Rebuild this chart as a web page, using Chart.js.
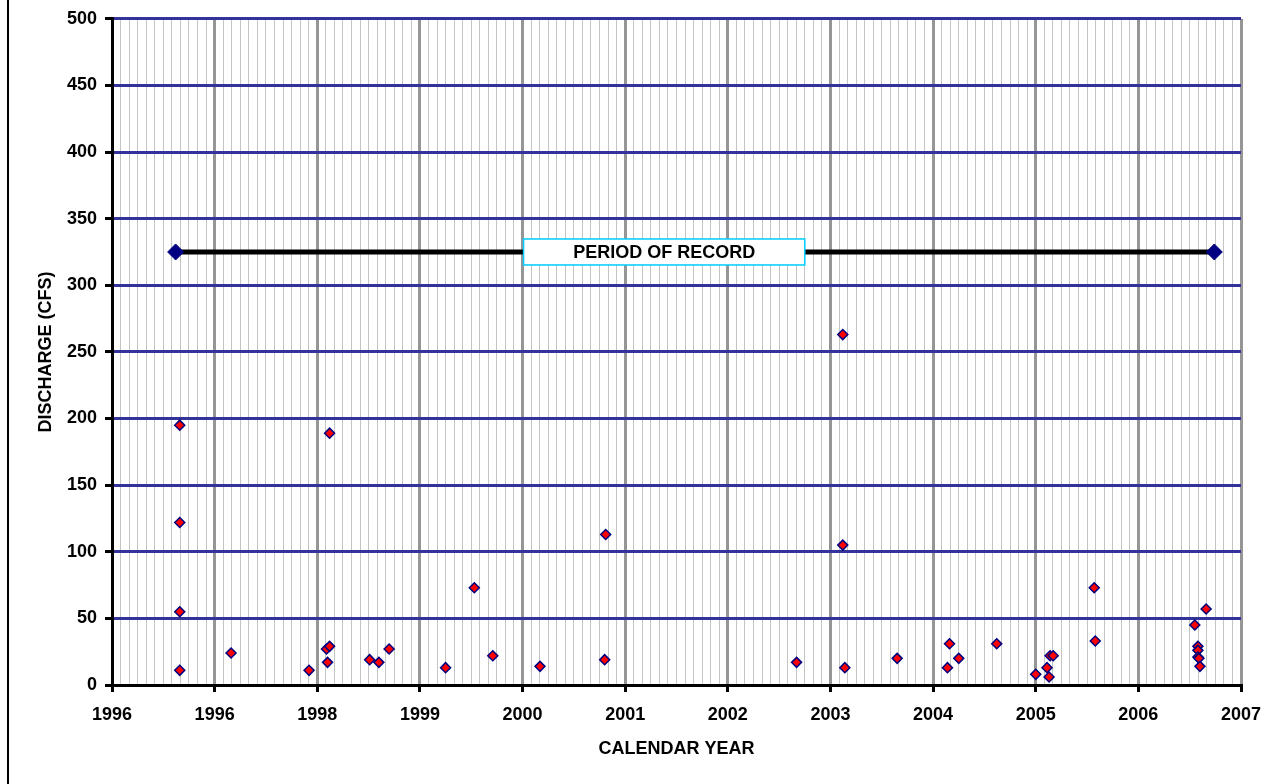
<!DOCTYPE html>
<html>
<head>
<meta charset="utf-8">
<script src="https://cdn.jsdelivr.net/npm/chart.js@4.4.1/dist/chart.umd.min.js"></script>
<style>
  html, body { margin: 0; padding: 0; background: #ffffff; }
  #wrap { position: relative; width: 1283px; height: 784px; }
</style>
</head>
<body>
<div id="wrap"><canvas id="c" width="1283" height="784"></canvas></div>
<script>
// ---- Data ----
const xTickLabels = ['1996','1996','1998','1999','2000','2001','2002','2003','2004','2005','2006','2007'];
const xStart = 1996;   // axis position of first major tick
const xEnd = 2007;     // axis position of last major tick
const minorPerMajor = 12;

const yTickValues = [0, 50, 100, 150, 200, 250, 300, 350, 400, 450, 500];

// Measured discharges (x in decimal years on the axis, y in CFS)
const obsX = [
  1996.66, 1996.66, 1996.66, 1996.66,
  1997.16, 1997.92,
  1998.09, 1998.12, 1998.10, 1998.12,
  1998.51, 1998.60, 1998.70,
  1999.25, 1999.53, 1999.71,
  2000.17, 2000.80, 2000.81,
  2002.67,
  2003.12, 2003.12, 2003.14, 2003.65,
  2004.14, 2004.16, 2004.25, 2004.62,
  2005.00, 2005.11, 2005.13, 2005.14, 2005.17,
  2005.57, 2005.58,
  2006.55, 2006.58, 2006.58, 2006.58, 2006.59, 2006.60, 2006.66
];
const obsY = [
  195, 122, 55, 11,
  24, 11,
  27, 29, 17, 189,
  19, 17, 27,
  13, 73, 22,
  14, 19, 113,
  17,
  263, 105, 13, 20,
  13, 31, 20, 31,
  8, 13, 6, 22, 22,
  73, 33,
  45, 29, 26, 21, 20, 14, 57
];

// Period of record line
const porX = [1996.62, 2006.74];
const porY = [325, 325];
const porLabel = 'PERIOD OF RECORD';
const porBoxX = [2000.01, 2002.75];

const xTitle = 'CALENDAR YEAR';
const yTitle = 'DISCHARGE (CFS)';

// ---- Build ----
const obsPoints = obsX.map((x, i) => ({ x: x, y: obsY[i] }));
const porPoints = porX.map((x, i) => ({ x: x, y: porY[i] }));

const FONT = "'Liberation Sans', Arial, sans-serif";

const leftBorder = {
  id: 'leftBorder',
  beforeDraw(chart) {
    const ctx = chart.ctx;
    ctx.save();
    ctx.fillStyle = '#000000';
    ctx.fillRect(7, 0, 2, chart.height);
    ctx.restore();
  }
};

const porBox = {
  id: 'porBox',
  afterDatasetsDraw(chart) {
    const xs = chart.scales.x, ys = chart.scales.y;
    const l = xs.getPixelForValue(porBoxX[0]);
    const r = xs.getPixelForValue(porBoxX[1]);
    const yc = ys.getPixelForValue(porY[0]);
    const h = 26;
    const ctx = chart.ctx;
    ctx.save();
    ctx.fillStyle = '#ffffff';
    ctx.fillRect(l, yc - h / 2, r - l, h);
    ctx.strokeStyle = '#00ccff';
    ctx.lineWidth = 1.5;
    ctx.strokeRect(l, yc - h / 2, r - l, h);
    ctx.fillStyle = '#000000';
    ctx.font = 'bold 18px ' + FONT;
    ctx.textAlign = 'center';
    ctx.textBaseline = 'middle';
    ctx.fillText(porLabel, (l + r) / 2, yc + 1);
    ctx.restore();
  }
};

new Chart(document.getElementById('c'), {
  type: 'scatter',
  data: {
    datasets: [
      {
        label: 'Period of record',
        data: porPoints,
        showLine: true,
        borderColor: '#000000',
        borderWidth: 5,
        pointStyle: 'rectRot',
        pointRadius: 8,
        pointBackgroundColor: '#000080',
        pointBorderColor: '#000080',
        pointBorderWidth: 1,
        clip: false
      },
      {
        label: 'Discharge',
        data: obsPoints,
        showLine: false,
        pointStyle: 'rectRot',
        pointRadius: 5,
        pointBackgroundColor: '#ff0000',
        pointBorderColor: '#000080',
        pointBorderWidth: 1.5,
        clip: false
      }
    ]
  },
  options: {
    responsive: false,
    animation: false,
    devicePixelRatio: 1,
    layout: { padding: { left: 0, right: 42, top: 17, bottom: 0 } },
    plugins: {
      legend: { display: false },
      tooltip: { enabled: false }
    },
    scales: {
      x: {
        type: 'linear',
        min: xStart,
        max: xEnd,
        afterBuildTicks(scale) {
          const n = (xEnd - xStart) * minorPerMajor;
          const t = [];
          for (let i = 0; i <= n; i++) t.push({ value: xStart + i / minorPerMajor });
          scale.ticks = t;
        },
        afterFit(scale) { scale.height = 99; },
        ticks: {
          autoSkip: false,
          maxRotation: 0,
          minRotation: 0,
          padding: 12,
          color: '#000000',
          font: { family: FONT, size: 18, weight: 'bold', lineHeight: 1.2 },
          callback(value, index) {
            return index % minorPerMajor === 0 ? xTickLabels[index / minorPerMajor] : '';
          }
        },
        grid: {
          color(ctx) { return ctx.index % minorPerMajor === 0 ? '#969696' : '#c4c4c4'; },
          lineWidth(ctx) { return ctx.index % minorPerMajor === 0 ? 3 : 1; },
          tickColor(ctx) { return ctx.index % minorPerMajor === 0 ? '#000000' : 'rgba(0,0,0,0)'; },
          tickWidth: 3,
          tickLength: 7,
          drawTicks: true
        },
        border: { display: true, color: '#000000', width: 3 },
        title: {
          display: true,
          text: xTitle,
          color: '#000000',
          font: { family: FONT, size: 18, weight: 'bold', lineHeight: 1.2 },
          padding: { top: 0, bottom: 24 }
        }
      },
      y: {
        type: 'linear',
        min: 0,
        max: 500,
        afterBuildTicks(scale) { scale.ticks = yTickValues.map(v => ({ value: v })); },
        afterFit(scale) { scale.width = 112; },
        ticks: {
          padding: 8,
          color: '#000000',
          font: { family: FONT, size: 18, weight: 'bold', lineHeight: 1.2 }
        },
        grid: {
          color: '#333399',
          lineWidth: 3,
          tickColor: '#000000',
          tickWidth: 3,
          tickLength: 7,
          drawTicks: true
        },
        border: { display: true, color: '#000000', width: 3 },
        title: {
          display: true,
          text: yTitle,
          color: '#000000',
          font: { family: FONT, size: 18, weight: 'bold', lineHeight: 1.2 },
          padding: { top: 35, bottom: 0 }
        }
      }
    }
  },
  plugins: [leftBorder, porBox]
});
</script>
</body>
</html>
